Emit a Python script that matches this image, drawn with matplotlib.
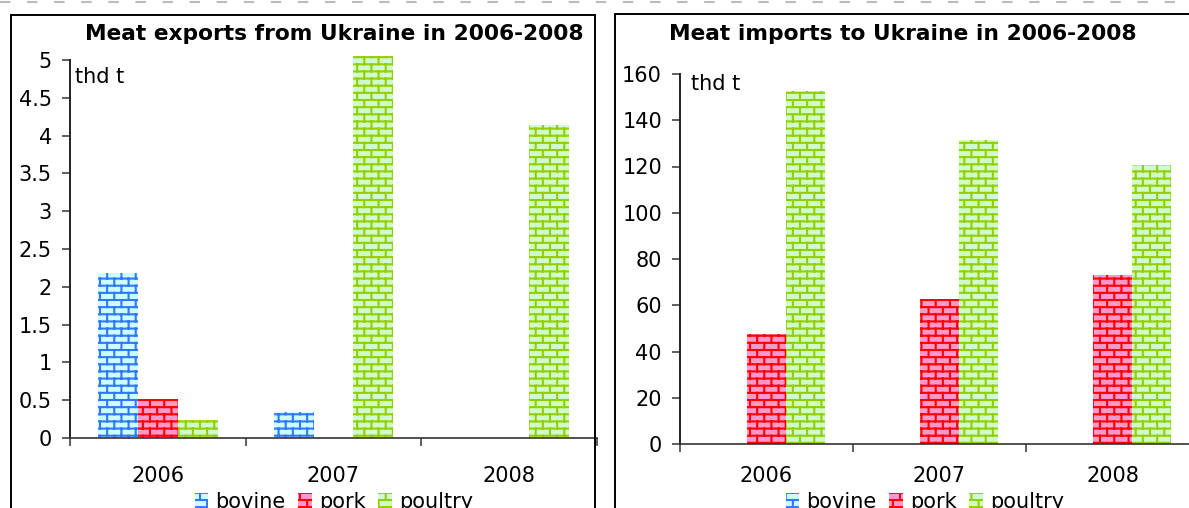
import warnings
import numpy as np
import matplotlib
matplotlib.use('Agg')
import matplotlib.pyplot as plt
import matplotlib.hatch as mhatch
from matplotlib.path import Path
from matplotlib.patches import Rectangle
from matplotlib.lines import Line2D
from matplotlib.ticker import FuncFormatter, MultipleLocator

warnings.filterwarnings('ignore')

years = ['2006', '2007', '2008']
meats = ['bovine', 'pork', 'poultry']

# thd t
export_bovine = [2.18, 0.35, 0.0]
export_pork = [0.51, 0.0, 0.0]
export_poultry = [0.24, 5.05, 4.14]

import_bovine = [0.0, 0.0, 0.0]
import_pork = [47.5, 62.7, 73.0]
import_poultry = [152.5, 131.5, 120.5]

face_colors = ['#ccffff', '#ff99cc', '#ccffcc']
brick_colors = ['#3377ff', '#ff0000', '#99cc00']

W, H = 1189, 508


class BrickHatch(mhatch.HatchPatternBase):
    # brick wall hatch, used with hatch='B'
    rows = 14
    bricks = 7

    def __init__(self, hatch, density):
        segs = []
        if 'B' in hatch:
            h = 1.0 / self.rows
            w = 1.0 / self.bricks
            for i in range(self.rows + 1):
                segs.append(((0.0, i * h), (1.0, i * h)))
            for i in range(self.rows):
                shift = 0.5 * w if i % 2 else 0.0
                for xx in np.arange(shift, 1.0 + 1e-9, w):
                    segs.append(((xx, i * h), (xx, (i + 1) * h)))
        self.segs = segs
        self.num_vertices = 2 * len(segs)

    def set_vertices_and_codes(self, vertices, codes):
        for k, (a, b) in enumerate(self.segs):
            vertices[2 * k] = a
            vertices[2 * k + 1] = b
        codes[0::2] = Path.MOVETO
        codes[1::2] = Path.LINETO


mhatch._hatch_types.append(BrickHatch)
plt.rcParams['hatch.linewidth'] = 1.5
plt.rcParams['font.family'] = 'DejaVu Sans'


def px(x0, y0, x1, y1):
    # pixel box (from top left) -> figure fraction rect
    return [x0 / W, 1 - y1 / H, (x1 - x0) / W, (y1 - y0) / H]


def draw_panel(ax, series, ymax, ystep, xpad):
    x = np.arange(len(years)) + 0.5
    w = 0.227
    for k, vals in enumerate(series):
        ax.bar(x + (k - 1) * w, vals, w, color=face_colors[k], edgecolor=brick_colors[k],
               linewidth=0, hatch='B', label=meats[k], clip_on=False, zorder=2)
    ax.set_xlim(0, 3)
    ax.set_ylim(0, ymax)
    ax.set_xticks([0, 1, 2, 3])
    ax.set_xticklabels([])
    ax.set_xticks(x, minor=True)
    ax.set_xticklabels(years, minor=True, fontsize=15)
    ax.tick_params(axis='x', which='major', length=5.5, width=1.2, color='#444444')
    ax.tick_params(axis='x', which='minor', length=0, pad=xpad)
    ax.yaxis.set_major_locator(MultipleLocator(ystep))
    ax.yaxis.set_major_formatter(FuncFormatter(lambda v, p: '{:g}'.format(v)))
    ax.tick_params(axis='y', length=5.5, width=1.2, pad=7.5, labelsize=15, color='#444444')
    for s in ['top', 'right']:
        ax.spines[s].set_visible(False)
    ax.spines['left'].set_linewidth(1.4)
    ax.spines['left'].set_color('#222222')
    ax.spines['bottom'].set_linewidth(1.2)
    ax.spines['bottom'].set_color('#333333')


fig = plt.figure(figsize=(W / 100, H / 100), dpi=100)

ax1 = fig.add_axes(px(70, 60, 597, 438))
draw_panel(ax1, [export_bovine, export_pork, export_poultry], 5, 0.5, 20)

ax2 = fig.add_axes(px(680, 74, 1199, 444))
draw_panel(ax2, [import_bovine, import_pork, import_poultry], 160, 20, 16)

# chart frames
fig.patches.append(Rectangle((11 / W, -0.1), (595 - 11) / W, 1.1 - 15 / H, transform=fig.transFigure,
                             fill=False, ec='black', lw=1.4))
fig.patches.append(Rectangle((615 / W, -0.1), 0.6, 1.1 - 14 / H, transform=fig.transFigure,
                             fill=False, ec='black', lw=1.4))
fig.add_artist(Line2D([0, 1], [1 - 1.5 / H] * 2, transform=fig.transFigure,
                      color='#bbbbbb', lw=1.5, dashes=(5, 8)))

fig.text(334 / W, 1 - 40 / H, 'Meat exports from Ukraine in 2006-2008', ha='center',
         va='baseline', fontsize=15.7, fontweight='bold')
fig.text(903 / W, 1 - 40 / H, 'Meat imports to Ukraine in 2006-2008', ha='center',
         va='baseline', fontsize=15.7, fontweight='bold')

fig.text(75 / W, 1 - 83 / H, 'thd t', fontsize=15, va='baseline')
fig.text(691 / W, 1 - 90 / H, 'thd t', fontsize=15, va='baseline')

for ax, cx in [(ax1, 334), (ax2, 925)]:
    handles, labels = ax.get_legend_handles_labels()
    fig.legend(handles, labels, loc='center', bbox_to_anchor=(cx / W, 1 - 502 / H), ncol=3,
               frameon=False, fontsize=15, handlelength=0.65, handleheight=0.7,
               handletextpad=0.35, columnspacing=0.6, borderaxespad=0, borderpad=0)

fig.savefig('out.png', dpi=100)
